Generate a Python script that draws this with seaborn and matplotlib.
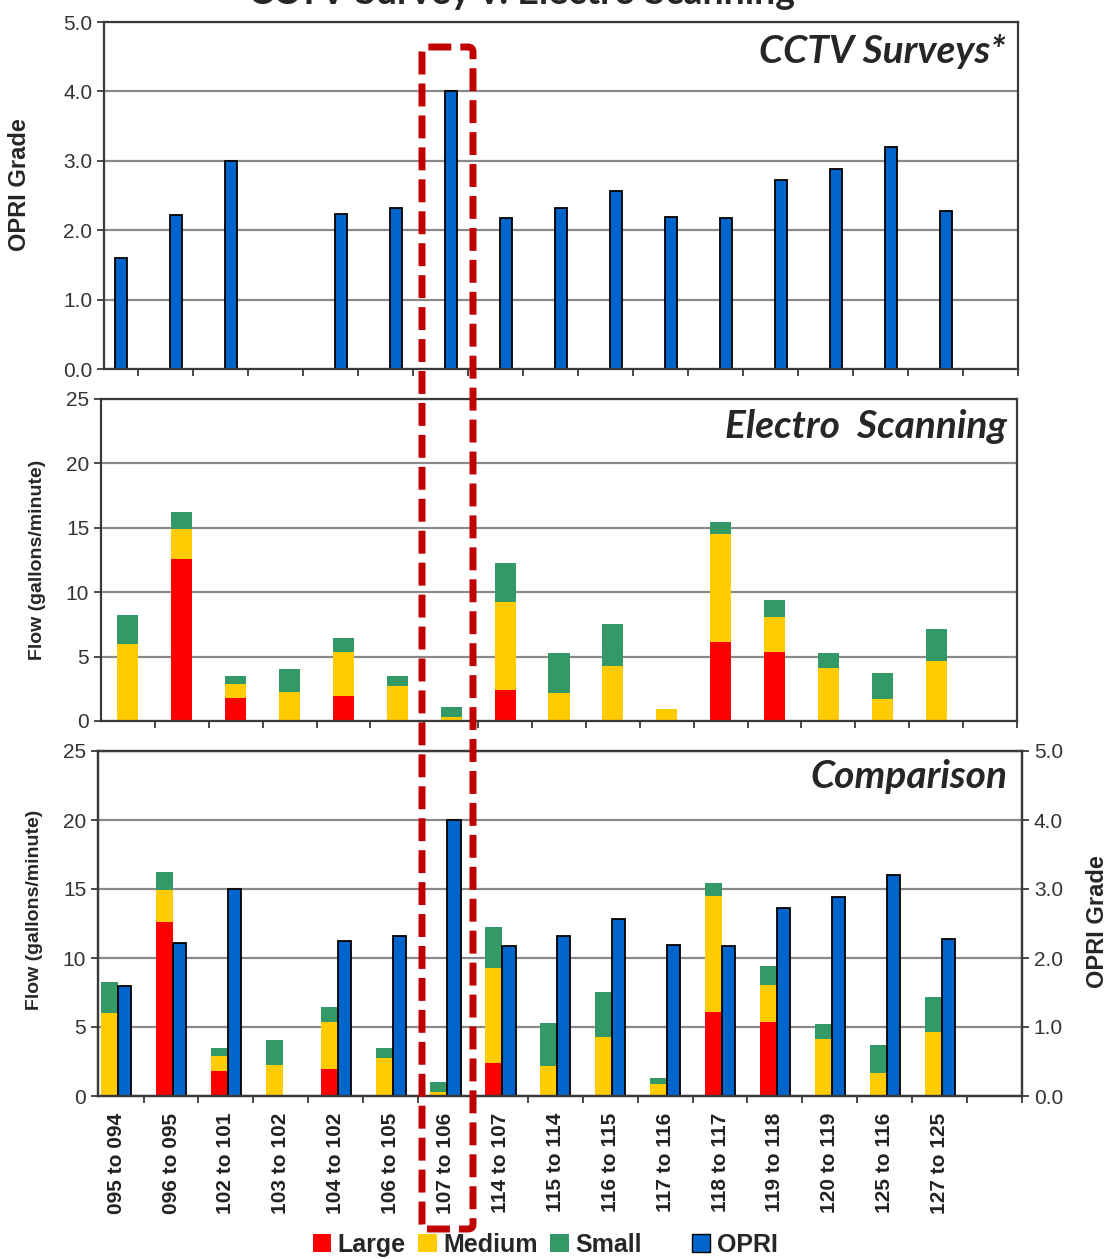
import numpy as np
import matplotlib.pyplot as plt
from matplotlib.patches import FancyBboxPatch, Patch
from matplotlib.ticker import FormatStrFormatter
import seaborn as sns

segments = ["095 to 094", "096 to 095", "102 to 101", "103 to 102", "104 to 102",
            "106 to 105", "107 to 106", "114 to 107", "115 to 114", "116 to 115",
            "117 to 116", "118 to 117", "119 to 118", "120 to 119", "125 to 116",
            "127 to 125"]
opri = [1.6, 2.22, 3.0, np.nan, 2.24, 2.32, 4.0, 2.18, 2.32, 2.56, 2.19, 2.18,
        2.72, 2.88, 3.2, 2.28]
large = [0, 12.6, 1.8, 0, 1.95, 0, 0, 2.4, 0, 0, 0, 6.1, 5.35, 0, 0, 0]
medium = [6.0, 2.3, 1.1, 2.25, 3.4, 2.75, 0.3, 6.85, 2.15, 4.3, 0.9, 8.4, 2.7,
          4.1, 1.7, 4.65]
small = [2.25, 1.3, 0.6, 1.8, 1.1, 0.75, 0.75, 3.0, 3.15, 3.25, 0.0, 0.95, 1.35,
         1.15, 2.0, 2.5]
# the comparison panel shows a small green cap on 117 to 116
small_comparison = [2.25, 1.3, 0.6, 1.8, 1.1, 0.75, 0.75, 3.0, 3.15, 3.25, 0.4,
                    0.95, 1.35, 1.15, 2.0, 2.5]

RED, YELLOW, GREEN, BLUE = "#FF0000", "#FFCC00", "#339966", "#0066CC"
AXC = "#3a3a3a"
W, H = 1112, 1259

sns.set_theme(style="white")
plt.rcParams["font.family"] = ["Liberation Sans", "DejaVu Sans"]

fig = plt.figure(figsize=(W / 100, H / 100), dpi=100)


def box(l, r, t, b):
    return [l / W, 1 - b / H, (r - l) / W, (b - t) / H]


pos = np.arange(len(segments))
n_slots = len(segments) + 1


def stacked_bars(ax, x, sm, width):
    lm = np.add(large, medium)
    tot = lm + np.array(sm)
    for vals, c in ((tot, GREEN), (lm, YELLOW), (np.array(large, float), RED)):
        sns.barplot(x=x, y=vals, native_scale=True, width=width, color=c,
                    saturation=1, linewidth=0, errorbar=None, ax=ax)


def opri_bars(ax, x, width):
    sns.barplot(x=x, y=opri, native_scale=True, width=width, color=BLUE,
                saturation=1, edgecolor="black", linewidth=1.3, errorbar=None, ax=ax)


def style(ax, xmin, ymax, ystep, fmt, grid=True):
    ax.set_xlim(xmin, n_slots - 0.5)
    ax.set_ylim(0, ymax)
    ax.set_yticks(np.arange(0, ymax + ystep / 2, ystep))
    ax.yaxis.set_major_formatter(FormatStrFormatter(fmt))
    ax.set_xticks(np.arange(0.5, n_slots, 1))
    ax.set_xticklabels([])
    if grid:
        ax.grid(axis="y", color="#8a8a8a", lw=1.6)
        ax.set_axisbelow(True)
    for s in ax.spines.values():
        s.set_color(AXC)
        s.set_linewidth(1.6)
    ax.tick_params(direction="out", length=5, width=1.3, color=AXC, labelsize=15,
                   labelcolor="#333333", left=True, bottom=True)
    ax.set_xlabel("")
    ax.set_ylabel("")


title_font = dict(family=["Lato", "DejaVu Sans"], weight="bold", style="italic", size=28)

# CCTV surveys
ax1 = fig.add_axes(box(104, 1018, 22, 369))
opri_bars(ax1, pos + 0.19, 0.22)
style(ax1, -0.12, 5, 1, "%.1f")
ax1.text(0.986, 0.915, "CCTV Surveys*", transform=ax1.transAxes, ha="right",
         va="center", **title_font)

# Electro scanning
ax2 = fig.add_axes(box(101, 1017, 399, 721))
stacked_bars(ax2, pos, small, 0.39)
style(ax2, -0.5, 25, 5, "%d")
ax2.text(0.989, 0.915, "Electro  Scanning", transform=ax2.transAxes, ha="right",
         va="center", **title_font)

# Comparison
ax3 = fig.add_axes(box(98, 1022, 751, 1096))
stacked_bars(ax3, pos - 0.12, small_comparison, 0.31)
ax3r = ax3.twinx()
opri_bars(ax3r, pos + 0.155, 0.24)
style(ax3, -0.33, 25, 5, "%d")
style(ax3r, -0.33, 5, 1, "%.1f", grid=False)
ax3r.tick_params(right=True, left=False, labelright=True, labelleft=False)
ax3.set_xticks(pos, minor=True)
ax3.set_xticklabels(segments, minor=True, rotation=90, fontsize=15, fontweight="bold",
                    color="#222222")
ax3.tick_params(axis="x", which="minor", length=0, pad=12)
ax3.text(0.984, 0.925, "Comparison", transform=ax3.transAxes, ha="right",
         va="center", **title_font)

# axis titles
fig.text(20 / W, 1 - 185 / H, "OPRI Grade", rotation=90, ha="center", va="center",
         fontsize=17, fontweight="bold")
fig.text(38 / W, 1 - 560 / H, "Flow (gallons/minute)", rotation=90, ha="center",
         va="center", fontsize=14, fontweight="bold")
fig.text(35 / W, 1 - 910 / H, "Flow (gallons/minute)", rotation=90, ha="center",
         va="center", fontsize=14, fontweight="bold")
fig.text(1097 / W, 1 - 922 / H, "OPRI Grade", rotation=90, ha="center", va="center",
         fontsize=17, fontweight="bold")

# title, cut by the top edge as in the source image
fig.text(522 / W, 1 - 4 / H, "CCTV Survey v. Electro Scanning", ha="center",
         va="baseline", fontsize=27, fontweight="bold", family=["Lato", "DejaVu Sans"])

# highlight of segment 107 to 106
frame = FancyBboxPatch((4.22, 0.30), 0.51, 11.82, boxstyle="round,pad=0,rounding_size=0.05",
                       transform=fig.dpi_scale_trans, fill=False, edgecolor="#C00000",
                       linewidth=5, linestyle=(0, (3.3, 1.3)), zorder=10)
fig.add_artist(frame)

handles = [Patch(facecolor=RED, edgecolor="none", label="Large"),
           Patch(facecolor=YELLOW, edgecolor="none", label="Medium"),
           Patch(facecolor=GREEN, edgecolor="none", label="Small"),
           Patch(facecolor="none", edgecolor="none", label=""),
           Patch(facecolor=BLUE, edgecolor="black", label="OPRI")]
fig.legend(handles=handles, loc="center", bbox_to_anchor=(545 / W, 1 - 1245 / H),
           ncol=5, frameon=False, prop=dict(weight="bold", size=18),
           handlelength=0.75, handleheight=0.75, handletextpad=0.25, columnspacing=0.5,
           borderpad=0)

fig.savefig("out.png", dpi=100)
